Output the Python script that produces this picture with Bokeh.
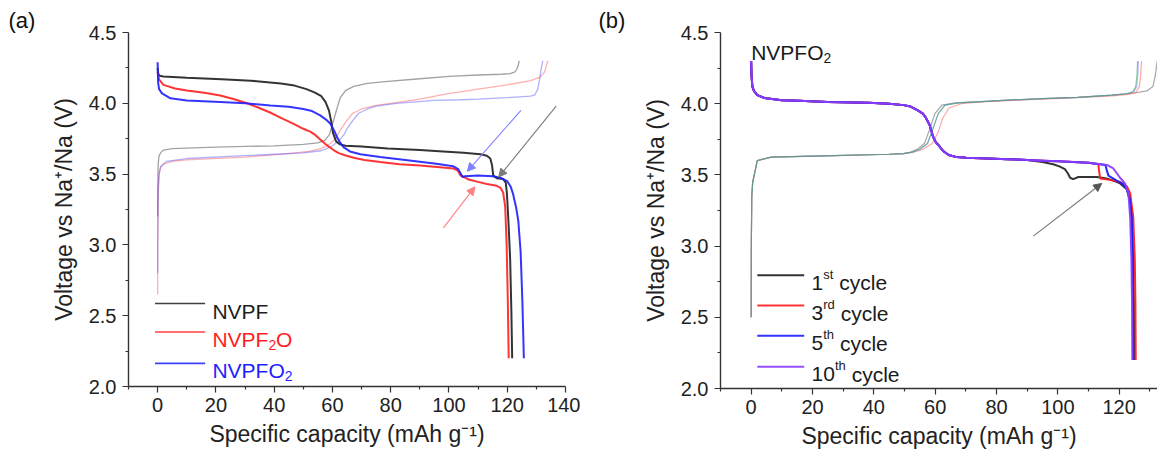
from bokeh.plotting import figure
from bokeh.layouts import row
from bokeh.models import FixedTicker, Arrow, NormalHead, NumeralTickFormatter
from bokeh.core.properties import value
from bokeh.embed import file_html
from bokeh.resources import INLINE

FONT = "Liberation Sans"

# ---------------- axis ticks ----------------
x_ticks_a = [0, 20, 40, 60, 80, 100, 120, 140]
x_tick_labels_a = ["0", "20", "40", "60", "80", "100", "120", "140"]
x_minor_a = [-10, 10, 30, 50, 70, 90, 110, 130]
x_ticks_b = [0, 20, 40, 60, 80, 100, 120]
x_tick_labels_b = ["0", "20", "40", "60", "80", "100", "120"]
x_minor_b = [-10, 10, 30, 50, 70, 90, 110, 130]
y_ticks = [2.0, 2.5, 3.0, 3.5, 4.0, 4.5]
y_tick_labels = ["2.0", "2.5", "3.0", "3.5", "4.0", "4.5"]
y_minor = [2.25, 2.75, 3.25, 3.75, 4.25]

# ---------------- panel (a) data ----------------
a_nvpf_dis_x = [0, 0.2, 0.6, 2, 10, 22, 32, 42.3, 47, 51.1, 54, 56.2, 57.6, 58.8, 59.6, 60.2, 61.3, 62.6, 64.5, 70,
                79, 90, 98, 105, 110.8, 113, 114.2, 114.8, 115.2, 116.5, 118.6, 119.5, 119.9, 120.4, 121, 121.4, 121.7]
a_nvpf_dis_y = [4.25, 4.21, 4.195, 4.19, 4.18, 4.17, 4.16, 4.14, 4.125, 4.10, 4.075, 4.05, 4.01, 3.95, 3.87, 3.79, 3.73, 3.71, 3.70, 3.695,
                3.68, 3.67, 3.66, 3.65, 3.64, 3.63, 3.61, 3.56, 3.49, 3.47, 3.465, 3.44, 3.36, 3.17, 2.9, 2.55, 2.2]
a_nvpf2o_dis_x = [0, 0.2, 0.6, 2, 6, 10, 16, 21.5, 26, 30.7, 34.5, 38.6, 42.5, 46.7, 50, 52.4, 54.2, 55.8, 57.5, 59,
                  60.4, 62, 64, 67.3, 71, 76.4, 83, 90, 96, 101.5, 103, 104, 105.5, 107, 110, 113, 116, 117.6, 118.6, 119.3,
                  119.8, 120.2, 120.5]
a_nvpf2o_dis_y = [4.22, 4.19, 4.165, 4.13, 4.105, 4.09, 4.075, 4.055, 4.03, 4.0, 3.97, 3.935, 3.895, 3.855, 3.82, 3.80, 3.775, 3.745, 3.715, 3.69,
                  3.67, 3.65, 3.635, 3.615, 3.60, 3.585, 3.57, 3.56, 3.55, 3.54, 3.525, 3.49, 3.475, 3.46, 3.445, 3.43, 3.42, 3.405, 3.37, 3.27,
                  3.0, 2.6, 2.2]
a_nvpfo2_dis_x = [0, 0.15, 0.5, 1.5, 4.4, 10, 21.5, 30, 38.7, 45, 50, 53, 55.8, 57.8, 59.3, 60.5, 61.6, 62.7, 63.8, 66,
                  69.6, 76.4, 85, 95, 101.5, 103.2, 104, 104.6, 105.5, 110, 115, 117.6, 120, 121.2, 122, 123, 123.8, 124.6, 125.2, 125.7]
a_nvpfo2_dis_y = [4.29, 4.15, 4.1, 4.07, 4.035, 4.02, 4.01, 4.0, 3.985, 3.975, 3.96, 3.945, 3.915, 3.885, 3.855, 3.81, 3.76, 3.72, 3.69, 3.66,
                  3.64, 3.62, 3.60, 3.575, 3.555, 3.535, 3.505, 3.48, 3.485, 3.49, 3.485, 3.475, 3.45, 3.41, 3.36, 3.27, 3.17, 2.95, 2.6, 2.2]

a_nvpf_chg_x = [0, 0.05, 0.15, 0.4, 1, 2, 5, 20, 40, 50, 55, 57.5, 59, 60.4, 61.5, 62.7, 64.5, 67.3, 72, 79,
                88, 100, 110, 118, 121, 122.5, 123.3, 123.8, 124.1]
a_nvpf_chg_y = [3.2, 3.4, 3.55, 3.62, 3.65, 3.67, 3.68, 3.69, 3.70, 3.71, 3.72, 3.74, 3.78, 3.88, 3.96, 4.04, 4.09, 4.12, 4.14, 4.155,
                4.17, 4.19, 4.20, 4.205, 4.21, 4.22, 4.24, 4.27, 4.3]
a_nvpf2o_chg_x = [0, 0.05, 0.2, 0.5, 1, 2, 5, 10, 30, 45, 52, 56, 59, 61, 63, 65, 67, 70, 75, 80,
                  90, 100, 104, 110, 120, 128, 131.3, 132.8, 133.5, 134]
a_nvpf2o_chg_y = [2.65, 3.0, 3.35, 3.5, 3.55, 3.57, 3.59, 3.60, 3.62, 3.645, 3.66, 3.68, 3.71, 3.75, 3.82, 3.88, 3.93, 3.96, 3.985, 4.0,
                  4.03, 4.07, 4.08, 4.10, 4.13, 4.16, 4.185, 4.22, 4.27, 4.3]
a_nvpfo2_chg_x = [0, 0.05, 0.2, 0.5, 1, 3, 10, 30, 50, 56, 58, 60, 62, 64, 65, 67, 69, 72, 75, 82,
                  95, 104, 110, 120, 128, 129.5, 130.5, 131.2, 131.7, 132.2]
a_nvpfo2_chg_y = [2.8, 3.1, 3.4, 3.5, 3.55, 3.59, 3.61, 3.63, 3.65, 3.665, 3.68, 3.70, 3.73, 3.78, 3.82, 3.88, 3.93, 3.96, 3.98, 4.0,
                  4.02, 4.025, 4.03, 4.04, 4.05, 4.06, 4.1, 4.18, 4.25, 4.3]

# arrows (a): start x, start y, end x, end y
a_arrow_x0 = [124.7, 136.8, 98.1]
a_arrow_y0 = [3.95, 3.98, 3.12]
a_arrow_x1 = [106.3, 117.1, 108.9]
a_arrow_y1 = [3.52, 3.48, 3.41]

# ---------------- panel (b) data ----------------
b_c1_dis_x = [0, 0.1, 0.4, 0.9, 2, 4.3, 10, 15.7, 25, 38.3, 45, 49.7, 52, 54.2, 56, 57, 58.2, 59.3, 60.2, 61,
              62.5, 64.4, 67, 70.1, 77, 83.7, 90, 95, 98.5, 100.5, 102.3, 103.3, 104, 105, 106.7, 112.7, 115.9, 118.1, 120.3, 122.5,
              123.5, 124.1, 124.5, 124.8, 124.9]
b_c1_dis_y = [4.3, 4.2, 4.12, 4.09, 4.06, 4.04, 4.025, 4.02, 4.012, 4.006, 4.0, 3.99, 3.98, 3.955, 3.93, 3.90, 3.85, 3.77, 3.73, 3.71,
              3.67, 3.64, 3.625, 3.62, 3.615, 3.61, 3.605, 3.59, 3.575, 3.56, 3.54, 3.51, 3.48, 3.47, 3.485, 3.485, 3.475, 3.46, 3.44, 3.40,
              3.32, 3.20, 2.95, 2.6, 2.2]
b_c3_dis_x = [0, 0.1, 0.4, 0.9, 2, 4.3, 10, 15.7, 25, 38.3, 45, 49.7, 52, 54.2, 56, 57, 58.2, 59.3, 60.2, 61,
              62.5, 64.4, 67, 70.1, 77, 83.7, 90, 95, 100, 105, 110, 113.2, 113.5, 113.8, 117, 120.3, 122.5, 123.6, 124.6, 125.1,
              125.3, 125.4]
b_c3_dis_y = [4.3, 4.2, 4.12, 4.09, 4.06, 4.04, 4.025, 4.02, 4.012, 4.006, 4.0, 3.99, 3.98, 3.955, 3.93, 3.90, 3.85, 3.77, 3.73, 3.71,
              3.67, 3.64, 3.625, 3.62, 3.615, 3.61, 3.605, 3.60, 3.595, 3.59, 3.585, 3.575, 3.52, 3.475, 3.465, 3.45, 3.42, 3.37, 3.20, 2.9,
              2.6, 2.2]
b_c5_dis_x = [0, 0.1, 0.4, 0.9, 2, 4.3, 10, 15.7, 25, 38.3, 45, 49.7, 52, 54.2, 56, 57, 58.2, 59.3, 60.2, 61,
              62.5, 64.4, 67, 70.1, 77, 83.7, 90, 95, 100, 105, 110, 115.5, 116, 116.5, 119.2, 121, 122.5, 123.5, 124.1, 124.4,
              124.5, 124.6]
b_c5_dis_y = [4.3, 4.2, 4.12, 4.09, 4.06, 4.04, 4.025, 4.02, 4.012, 4.006, 4.0, 3.99, 3.98, 3.955, 3.93, 3.90, 3.85, 3.77, 3.73, 3.71,
              3.67, 3.64, 3.625, 3.62, 3.615, 3.61, 3.605, 3.60, 3.595, 3.59, 3.585, 3.57, 3.53, 3.495, 3.46, 3.44, 3.40, 3.33, 3.2, 2.9,
              2.6, 2.2]
b_c10_dis_x = [0, 0.1, 0.4, 0.9, 2, 4.3, 10, 15.7, 25, 38.3, 45, 49.7, 52, 54.2, 56, 57, 58.2, 59.3, 60.2, 61,
               62.5, 64.4, 67, 70.1, 77, 83.7, 90, 95, 100, 105, 110, 116, 118.1, 120.3, 121.9, 123, 123.6, 124, 124.2, 124.3]
b_c10_dis_y = [4.3, 4.2, 4.12, 4.09, 4.06, 4.04, 4.025, 4.02, 4.012, 4.006, 4.0, 3.99, 3.98, 3.955, 3.93, 3.90, 3.85, 3.77, 3.73, 3.71,
               3.67, 3.64, 3.625, 3.62, 3.615, 3.61, 3.605, 3.60, 3.595, 3.59, 3.585, 3.57, 3.545, 3.48, 3.44, 3.37, 3.2, 2.9, 2.6, 2.2]

b_c1_chg_x = [0, 0.05, 0.2, 0.5, 0.9, 2, 6.6, 27, 45, 49.7, 52, 54.2, 56.5, 58.2, 59.9, 62.2, 66.7, 75, 83.7, 95,
              106.4, 117.7, 125, 129, 131, 131.8, 132.4]
b_c1_chg_y = [2.5, 3.0, 3.35, 3.45, 3.49, 3.6, 3.625, 3.635, 3.645, 3.65, 3.66, 3.68, 3.72, 3.82, 3.93, 3.99, 4.006, 4.015, 4.025, 4.035,
              4.045, 4.06, 4.075, 4.09, 4.12, 4.2, 4.3]
b_c3_chg_x = [0, 0.05, 0.2, 0.5, 0.9, 2, 6.6, 27, 45, 49.7, 53, 56, 59, 61, 62.5, 64.5, 68.5, 75, 83.7, 95,
              106.4, 117.7, 123, 125.5, 126.6, 127.0, 127.3]
b_c3_chg_y = [2.5, 3.0, 3.35, 3.45, 3.49, 3.6, 3.625, 3.635, 3.645, 3.65, 3.66, 3.68, 3.72, 3.80, 3.90, 3.97, 4.0, 4.012, 4.022, 4.032,
              4.042, 4.055, 4.065, 4.08, 4.12, 4.2, 4.3]
b_c5_chg_x = [0, 0.05, 0.2, 0.5, 0.9, 2, 6.6, 27, 45, 49.7, 52.5, 55, 57.5, 59.2, 61, 63.2, 67.5, 75, 83.7, 95,
              106.4, 117.7, 122.5, 124.8, 125.7, 126.1, 126.3]
b_c5_chg_y = [2.5, 3.0, 3.35, 3.45, 3.49, 3.6, 3.625, 3.635, 3.645, 3.65, 3.66, 3.68, 3.72, 3.82, 3.93, 3.99, 4.006, 4.015, 4.025, 4.035,
              4.045, 4.06, 4.07, 4.085, 4.12, 4.2, 4.3]
b_c10_chg_x = [0, 0.05, 0.2, 0.5, 0.9, 2, 6.6, 27, 45, 49.7, 52.5, 55, 57.5, 59.2, 61, 63.2, 67.5, 75, 83.7, 95,
               106.4, 117.7, 122.5, 124.5, 125.4, 125.8, 126.0]
b_c10_chg_y = [2.5, 3.0, 3.35, 3.45, 3.49, 3.6, 3.625, 3.635, 3.645, 3.65, 3.66, 3.68, 3.72, 3.82, 3.93, 3.99, 4.006, 4.015, 4.025, 4.035,
               4.045, 4.06, 4.07, 4.085, 4.12, 4.2, 4.3]

b_arrow_x0 = [92.0]
b_arrow_y0 = [3.07]
b_arrow_x1 = [114.3]
b_arrow_y1 = [3.44]

# ---------------- helpers ----------------
AW = {' ': 0.278, 'N': 0.722, 'V': 0.667, 'P': 0.667, 'F': 0.611, 'O': 0.778,
      'c': 0.5, 'y': 0.5, 'l': 0.222, 'e': 0.556, 's': 0.5, 't': 0.278, 'r': 0.333,
      'd': 0.556, 'h': 0.556}


def text_width(s, size):
    return sum(AW.get(ch, 0.556) for ch in s) * size


def rich_text(p, x, y, pieces, size, color):
    """pieces: list of (text, kind) with kind in n/sub/sup; y is the row centre."""
    off = 0.0
    base = 0.36 * size
    for txt, kind in pieces:
        if kind == "n":
            fs, dy = size, 0.0
        elif kind == "sub":
            fs, dy = size * 0.66, 0.25 * size
        else:
            fs, dy = size * 0.62, -0.42 * size
        lead = len(txt) - len(txt.lstrip(" "))
        off += text_width(" " * lead, fs)
        txt = txt.lstrip(" ")
        p.text(x=[x], y=[y], text=[txt], x_offset=off, y_offset=base + dy,
               text_font=value(FONT), text_font_size=f"{fs:.1f}px", text_color=color,
               text_baseline="alphabetic", text_align="left")
        off += text_width(txt, fs)


def style(p, xt, xlab, xminor, panel_tag, tag_offset):
    for ax in (p.xaxis[0], p.yaxis[0]):
        ax.axis_line_color = "#333333"
        ax.axis_line_width = 1.4
        ax.major_tick_line_color = "#333333"
        ax.minor_tick_line_color = "#333333"
        ax.major_tick_line_width = 1.2
        ax.minor_tick_line_width = 1.2
        ax.major_tick_out = 6
        ax.major_tick_in = 0
        ax.minor_tick_out = 3
        ax.minor_tick_in = 0
        ax.major_label_text_font = FONT
        ax.major_label_text_font_size = "20px"
        ax.major_label_text_color = "#222222"
        ax.axis_label_text_font = FONT
        ax.axis_label_text_font_size = "23px"
        ax.axis_label_text_font_style = "normal"
        ax.axis_label_text_color = "#222222"
    p.xaxis.ticker = FixedTicker(ticks=xt, minor_ticks=xminor)
    p.xaxis.major_label_overrides = {t: s for t, s in zip(xt, xlab)}
    p.yaxis.ticker = FixedTicker(ticks=y_ticks, minor_ticks=y_minor)
    p.yaxis.formatter = NumeralTickFormatter(format="0.0")
    p.yaxis.major_label_overrides = {t: s for t, s in zip(y_ticks, y_tick_labels)}
    p.xaxis.major_label_standoff = 5
    p.yaxis.major_label_standoff = 6
    p.xaxis.axis_label = "Specific capacity (mAh g\u207b\u00b9)"
    p.yaxis.axis_label = "Voltage vs Na\u207a/Na (V)"
    p.xaxis.axis_label_standoff = 6
    p.yaxis.axis_label_standoff = 9
    p.xgrid.visible = False
    p.ygrid.visible = False
    p.outline_line_color = None
    p.background_fill_color = "white"
    p.border_fill_color = "white"
    p.title.text = panel_tag
    p.title.align = "left"
    p.title.offset = tag_offset
    p.title.text_font = FONT
    p.title.text_font_size = "22px"
    p.title.text_font_style = "normal"
    p.title.text_color = "#111111"
    p.title.standoff = 0


# ---------------- panel (a) ----------------
p1 = figure(frame_width=437, frame_height=354, x_range=(-10, 140), y_range=(2.0, 4.5),
            min_border_left=128, min_border_right=15, min_border_top=32, min_border_bottom=69,
            output_backend="svg", toolbar_location=None)
style(p1, x_ticks_a, x_tick_labels_a, x_minor_a, "(a)", -120)

BLACK, RED, BLUE = "#1e1e1e", "#ff1e1e", "#1e1eff"
p1.line(a_nvpf_chg_x, a_nvpf_chg_y, line_color="#555555", line_width=1.3, line_alpha=0.55)
p1.line(a_nvpf2o_chg_x, a_nvpf2o_chg_y, line_color="#ff5050", line_width=1.3, line_alpha=0.45)
p1.line(a_nvpfo2_chg_x, a_nvpfo2_chg_y, line_color="#5050ff", line_width=1.3, line_alpha=0.45)
p1.line(a_nvpf_dis_x, a_nvpf_dis_y, line_color=BLACK, line_width=2.0, line_alpha=0.9)
p1.line(a_nvpf2o_dis_x, a_nvpf2o_dis_y, line_color=RED, line_width=2.0, line_alpha=0.9)
p1.line(a_nvpfo2_dis_x, a_nvpfo2_dis_y, line_color=BLUE, line_width=2.0, line_alpha=0.9)

for i, c in enumerate(["#7f7fff", "#7a7a7a", "#ff8080"]):
    p1.add_layout(Arrow(end=NormalHead(size=8, fill_color=c, line_color=c, line_width=1),
                        x_start=a_arrow_x0[i], y_start=a_arrow_y0[i],
                        x_end=a_arrow_x1[i], y_end=a_arrow_y1[i],
                        line_color=c, line_width=1.1))

leg_a_names = [[("NVPF", "n")], [("NVPF", "n"), ("2", "sub"), ("O", "n")], [("NVPFO", "n"), ("2", "sub")]]
leg_a_colors = [BLACK, RED, BLUE]
leg_a_rows = [2.586, 2.385, 2.163]
for nm, col, yy in zip(leg_a_names, leg_a_colors, leg_a_rows):
    p1.line([-0.9, 16.3], [yy, yy], line_color=col, line_width=1.6, line_alpha=0.85)
    rich_text(p1, 18.8, yy, nm, 21, col)

# ---------------- panel (b) ----------------
p2 = figure(frame_width=437, frame_height=356, x_range=(-10, 132.5), y_range=(2.0, 4.5),
            min_border_left=140, min_border_right=0, min_border_top=31, min_border_bottom=68,
            output_backend="svg", toolbar_location=None)
style(p2, x_ticks_b, x_tick_labels_b, x_minor_b, "(b)", -122)

p2.line(b_c1_chg_x, b_c1_chg_y, line_color="#6a6a6a", line_width=1.2, line_alpha=0.6)
p2.line(b_c3_chg_x, b_c3_chg_y, line_color="#ff6a6a", line_width=1.2, line_alpha=0.6)
p2.line(b_c5_chg_x, b_c5_chg_y, line_color="#7a7aff", line_width=1.2, line_alpha=0.5)
p2.line(b_c10_chg_x, b_c10_chg_y, line_color="#3caa6a", line_width=1.2, line_alpha=0.6)

PURPLE = "#8a3cff"
p2.line(b_c1_dis_x, b_c1_dis_y, line_color=BLACK, line_width=2.0, line_alpha=0.9)
p2.line(b_c3_dis_x, b_c3_dis_y, line_color=RED, line_width=2.0, line_alpha=0.95)
p2.line(b_c5_dis_x, b_c5_dis_y, line_color=BLUE, line_width=2.0, line_alpha=0.95)
p2.line(b_c10_dis_x, b_c10_dis_y, line_color=PURPLE, line_width=2.0, line_alpha=0.95)

p2.add_layout(Arrow(end=NormalHead(size=8, fill_color="#555555", line_color="#555555", line_width=1),
                    x_start=b_arrow_x0[0], y_start=b_arrow_y0[0],
                    x_end=b_arrow_x1[0], y_end=b_arrow_y1[0],
                    line_color="#777777", line_width=1.1))

leg_b_names = [[("1", "n"), ("st", "sup"), (" cycle", "n")],
               [("3", "n"), ("rd", "sup"), (" cycle", "n")],
               [("5", "n"), ("th", "sup"), (" cycle", "n")],
               [("10", "n"), ("th", "sup"), (" cycle", "n")]]
leg_b_colors = [BLACK, RED, BLUE, PURPLE]
leg_b_rows = [2.795, 2.582, 2.371, 2.153]
for nm, col, yy in zip(leg_b_names, leg_b_colors, leg_b_rows):
    p2.line([2.0, 17.3], [yy, yy], line_color=col, line_width=2.0, line_alpha=0.9)
    rich_text(p2, 19.7, yy, nm, 21, "#1a1a1a")

rich_text(p2, 0.0, 4.36 + 0.36 * 21 / 142.4, [("NVPFO", "n"), ("2", "sub")], 21, "#1a1a1a")

layout = row(p1, p2)
open("out.html", "w").write(file_html(layout, INLINE))
